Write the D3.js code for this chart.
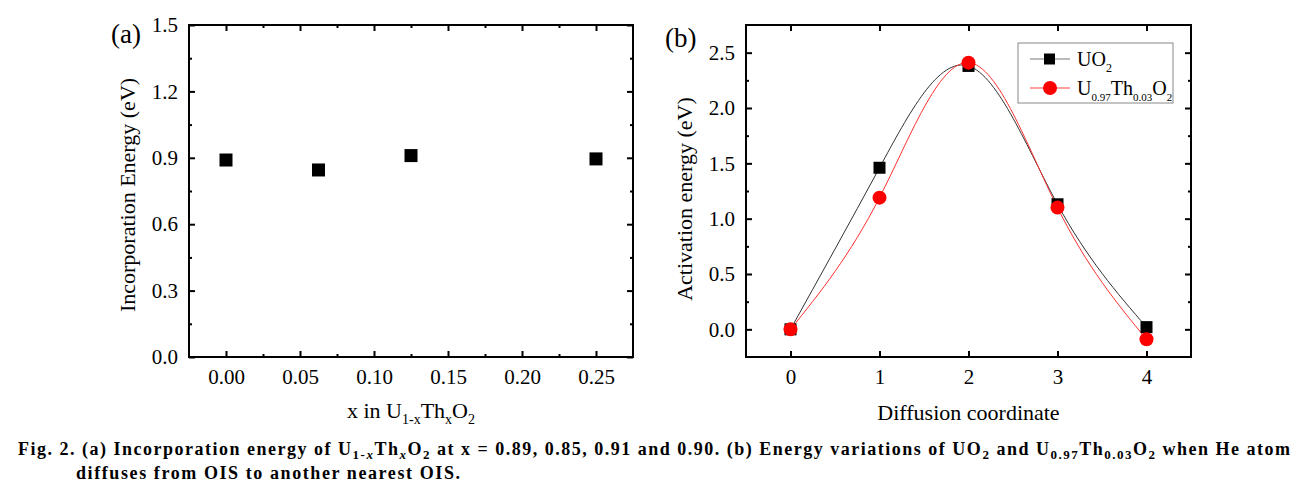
<!DOCTYPE html>
<html>
<head>
<meta charset="utf-8">
<script src="https://cdn.jsdelivr.net/npm/d3@7"></script>
<style>
  body { margin: 0; background: #fff; }
  svg { display: block; }
  text { font-family: "Liberation Serif", "Times New Roman", serif; fill: #000; }
</style>
</head>
<body>
<svg id="chart" width="1297" height="500"></svg>
<script>
// panel (a): incorporation energy vs Th fraction
const thFraction = [0, 0.0625, 0.125, 0.25];
const incorpEnergy = [0.89, 0.845, 0.91, 0.895];
const xTicksA = [0, 0.05, 0.10, 0.15, 0.20, 0.25];
const yTicksA = [0, 0.3, 0.6, 0.9, 1.2, 1.5];

// panel (b): activation energy along the diffusion path
const diffCoord = [0, 1, 2, 3, 4];
const energyUO2 = [0, 1.46, 2.38, 1.13, 0.02];
const energyDoped = [0, 1.19, 2.41, 1.10, -0.09];
const xTicksB = [0, 1, 2, 3, 4];
const yTicksB = [0, 0.5, 1.0, 1.5, 2.0, 2.5];

const svg = d3.select("#chart");

// draws the box, inward ticks on all four sides, and the tick labels
function drawFrame(g, x, y, o) {
    const [x0, x1] = x.range();
    const [y0, y1] = y.range();

    const addAxis = (axis, tr, labels) => {
        const a = g.append("g").attr("transform", tr).call(axis);
        a.select(".domain").remove();
        a.selectAll(".tick line").attr("stroke", "#000").attr("stroke-width", 2);
        if (!labels) a.selectAll(".tick text").remove();
        else a.selectAll(".tick text").style("font-size", "21px").attr("fill", "#000");
        return a;
    };

    // minor ticks
    addAxis(d3.axisBottom(x).tickValues(o.xMinor).tickSize(-3), `translate(0,${y0})`, false);
    addAxis(d3.axisTop(x).tickValues(o.xMinor).tickSize(-3), `translate(0,${y1})`, false);
    addAxis(d3.axisLeft(y).tickValues(o.yMinor).tickSize(-3), `translate(${x0},0)`, false);
    addAxis(d3.axisRight(y).tickValues(o.yMinor).tickSize(-3), `translate(${x1},0)`, false);

    // major ticks
    addAxis(d3.axisBottom(x).tickValues(o.xTicks).tickSize(-6).tickPadding(12).tickFormat(o.xFmt),
        `translate(0,${y0})`, true);
    addAxis(d3.axisTop(x).tickValues(o.xTicks).tickSize(-6), `translate(0,${y1})`, false);
    addAxis(d3.axisLeft(y).tickValues(o.yTicks).tickSize(-6).tickPadding(11).tickFormat(o.yFmt),
        `translate(${x0},0)`, true);
    addAxis(d3.axisRight(y).tickValues(o.yTicks).tickSize(-6), `translate(${x1},0)`, false);

    g.append("rect")
        .attr("x", x0).attr("y", y1)
        .attr("width", x1 - x0).attr("height", y0 - y1)
        .attr("fill", "none").attr("stroke", "#000").attr("stroke-width", 2);
}

// writes runs of text where some pieces are subscripts
function richText(t, parts, subSize, shift) {
    let level = 0;
    parts.forEach(p => {
        const target = p.sub ? 1 : 0;
        const ts = t.append("tspan").text(p.t);
        if (target !== level) ts.attr("dy", (target - level) * shift);
        if (p.sub) ts.style("font-size", subSize + "px");
        if (p.it) ts.style("font-style", "italic");
        level = target;
    });
}

// ---------- panel (a) ----------
const gA = svg.append("g");
const xA = d3.scaleLinear().domain([-0.025, 0.275]).range([189, 633]);
const yA = d3.scaleLinear().domain([0, 1.5]).range([357, 25]);

drawFrame(gA, xA, yA, {
    xTicks: xTicksA, xMinor: d3.range(0.025, 0.25, 0.05),
    yTicks: yTicksA, yMinor: d3.range(0.15, 1.5, 0.3),
    xFmt: d3.format(".2f"), yFmt: d3.format(".1f")
});

gA.selectAll(".pt")
    .data(thFraction.map((d, i) => [d, incorpEnergy[i]]))
    .enter()
    .append("rect")
    .attr("x", d => xA(d[0]) - 6.5)
    .attr("y", d => yA(d[1]) - 6.5)
    .attr("width", 13).attr("height", 13)
    .attr("fill", "#000");

gA.append("text").attr("x", 111).attr("y", 43).style("font-size", "27px").text("(a)");

gA.append("text")
    .attr("transform", `translate(135,${(yA.range()[0] + yA.range()[1]) / 2 + 4}) rotate(-90)`)
    .attr("text-anchor", "middle")
    .style("font-size", "22px")
    .text("Incorporation Energy (eV)");

const xTitleA = gA.append("text")
    .attr("x", (xA.range()[0] + xA.range()[1]) / 2).attr("y", 418)
    .attr("text-anchor", "middle")
    .style("font-size", "22px");
richText(xTitleA, [
    { t: "x in U" }, { t: "1-x", sub: true }, { t: "Th" }, { t: "x", sub: true },
    { t: "O" }, { t: "2", sub: true }
], 14, 6);

// ---------- panel (b) ----------
const gB = svg.append("g");
const xB = d3.scaleLinear().domain([-0.5, 4.5]).range([746, 1191]);
const yB = d3.scaleLinear().domain([-0.25, 2.75]).range([357, 25]);

drawFrame(gB, xB, yB, {
    xTicks: xTicksB, xMinor: [],
    yTicks: yTicksB, yMinor: d3.range(0.25, 2.5, 0.5),
    xFmt: d3.format("d"), yFmt: d3.format(".1f")
});

const line = d3.line()
    .x(d => xB(d[0]))
    .y(d => yB(d[1]))
    .curve(d3.curveNatural);

const series = [
    { values: energyUO2, line: "#333", fill: "#000", shape: "square" },
    { values: energyDoped, line: "#ff3030", fill: "#ff0000", shape: "circle" }
];

series.forEach(s => {
    const pts = diffCoord.map((d, i) => [d, s.values[i]]);
    gB.append("path")
        .datum(pts)
        .attr("d", line)
        .attr("fill", "none")
        .attr("stroke", s.line)
        .attr("stroke-width", 1);
});

series.forEach(s => {
    const pts = diffCoord.map((d, i) => [d, s.values[i]]);
    if (s.shape === "square") {
        gB.selectAll(".sq")
            .data(pts).enter()
            .append("rect")
            .attr("x", d => xB(d[0]) - 6)
            .attr("y", d => yB(d[1]) - 6)
            .attr("width", 12).attr("height", 12)
            .attr("fill", s.fill);
    } else {
        gB.selectAll(".ci")
            .data(pts).enter()
            .append("circle")
            .attr("cx", d => xB(d[0]))
            .attr("cy", d => yB(d[1]))
            .attr("r", 7)
            .attr("fill", s.fill);
    }
});

gB.append("text").attr("x", 665).attr("y", 47).style("font-size", "27px").text("(b)");

gB.append("text")
    .attr("transform", `translate(692,${(yB.range()[0] + yB.range()[1]) / 2 + 8}) rotate(-90)`)
    .attr("text-anchor", "middle")
    .style("font-size", "22px")
    .text("Activation energy (eV)");

gB.append("text")
    .attr("x", (xB.range()[0] + xB.range()[1]) / 2).attr("y", 420)
    .attr("text-anchor", "middle")
    .style("font-size", "22px")
    .text("Diffusion coordinate");

// legend
const legend = gB.append("g").attr("transform", "translate(1018,43)");
legend.append("rect")
    .attr("width", 155).attr("height", 60)
    .attr("fill", "#fff").attr("stroke", "#888").attr("stroke-width", 1);

const l1 = legend.append("g").attr("transform", "translate(0,16)");
l1.append("line").attr("x1", 12).attr("x2", 52).attr("stroke", "#777").attr("stroke-width", 1);
l1.append("rect").attr("x", 26).attr("y", -5.5).attr("width", 11).attr("height", 11).attr("fill", "#000");
const t1 = l1.append("text").attr("x", 59).attr("y", 7).style("font-size", "20px");
richText(t1, [{ t: "UO" }, { t: "2", sub: true }], 12, 6);

const l2 = legend.append("g").attr("transform", "translate(0,45)");
l2.append("line").attr("x1", 12).attr("x2", 52).attr("stroke", "#ff4040").attr("stroke-width", 1);
l2.append("circle").attr("cx", 32).attr("r", 7).attr("fill", "#ff0000");
const t2 = l2.append("text").attr("x", 59).attr("y", 7).style("font-size", "20px");
richText(t2, [
    { t: "U" }, { t: "0.97", sub: true }, { t: "Th" }, { t: "0.03", sub: true },
    { t: "O" }, { t: "2", sub: true }
], 11, 6);

// ---------- caption ----------
const cap1 = svg.append("text")
    .attr("x", 18).attr("y", 455)
    .attr("textLength", 1272).attr("lengthAdjust", "spacing")
    .style("font-family", "'Liberation Serif', serif")
    .style("font-size", "18px").style("font-weight", "bold");
richText(cap1, [
    { t: "Fig. 2. (a) Incorporation energy of U" }, { t: "1-", sub: true },
    { t: "x", sub: true, it: true }, { t: "Th" }, { t: "x", sub: true, it: true },
    { t: "O" }, { t: "2", sub: true },
    { t: " at x = 0.89, 0.85, 0.91 and 0.90. (b) Energy variations of UO" }, { t: "2", sub: true },
    { t: " and U" }, { t: "0.97", sub: true }, { t: "Th" }, { t: "0.03", sub: true },
    { t: "O" }, { t: "2", sub: true }, { t: " when He atom" }
], 13, 4);

svg.append("text")
    .attr("x", 76).attr("y", 479)
    .attr("textLength", 384).attr("lengthAdjust", "spacing")
    .style("font-family", "'Liberation Serif', serif")
    .style("font-size", "18px").style("font-weight", "bold")
    .text("diffuses from OIS to another nearest OIS.");
</script>
</body>
</html>
